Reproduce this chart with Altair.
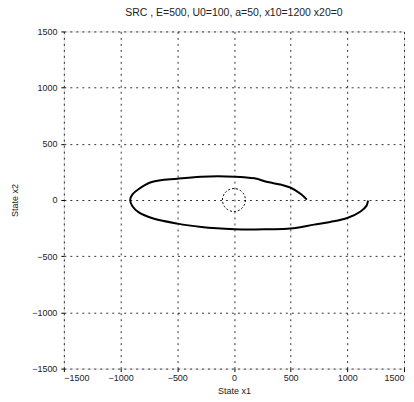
import altair as alt
import pandas as pd

# trajectory (State x1, State x2), in drawing order
x1 = [1185, 1181, 1170, 1117, 1000, 850, 707, 497, 298, 123, 6, -150, -287, -497,
      -725, -842, -895, -915, -895, -842, -725, -497, -289, 6, 181, 298, 420, 497, 590, 643]
x2 = [-5, -15, -50, -102, -160, -195, -219, -254, -260, -263, -260, -252, -240, -210,
      -160, -108, -55, 0, 50, 96, 160, 190, 208, 208, 193, 160, 135, 111, 53, 3]

center_x = [0]
center_y = [0]

title = "SRC , E=500, U0=100, a=50, x10=1200 x20=0"
ticks = [-1500, -1000, -500, 0, 500, 1000, 1500]

df = pd.DataFrame({"x1": x1, "x2": x2, "i": list(range(len(x1)))})
dc = pd.DataFrame({"x1": center_x, "x2": center_y})

xs = alt.Scale(domain=[-1500, 1500], nice=False)
ys = alt.Scale(domain=[-1500, 1500], nice=False)

axis_common = dict(
    values=ticks, format="d", grid=True, gridColor="#000", gridDash=[2, 4], gridOpacity=0.8,
    gridWidth=1, domain=False, ticks=True, tickSize=3, tickColor="#000",
    labelFont="Liberation Sans", labelFontSize=9, labelColor="#222",
    titleFont="Liberation Sans", titleFontSize=9, titleFontWeight="normal",
    titleColor="#222",
)

line = alt.Chart(df).mark_line(color="black", strokeWidth=2, interpolate="catmull-rom").encode(
    x=alt.X("x1:Q", scale=xs, title="State x1",
            axis=alt.Axis(**axis_common, labelPadding=2, titlePadding=4)),
    y=alt.Y("x2:Q", scale=ys, title="State x2",
            axis=alt.Axis(**axis_common, labelPadding=4, titlePadding=12)),
    order="i:Q",
)

circ = alt.Chart(dc).mark_point(
    shape="circle", filled=False, size=530, color="black", strokeWidth=1,
    strokeDash=[2, 2], opacity=1,
).encode(x=alt.X("x1:Q", scale=xs), y=alt.Y("x2:Q", scale=ys))

chart = alt.layer(line, circ).properties(
    width=341, height=338,
    title=alt.TitleParams(title, font="Liberation Sans", fontSize=10.5,
                          fontWeight="normal", color="#222", offset=9),
    autosize=alt.AutoSizeParams(type="none"),
    padding={"left": 56, "top": 23, "right": 2, "bottom": 28},
).configure_view(stroke="black", strokeWidth=1.2).configure(background="white")

chart.save("out.html", embed_options={"renderer": "svg", "actions": False})
